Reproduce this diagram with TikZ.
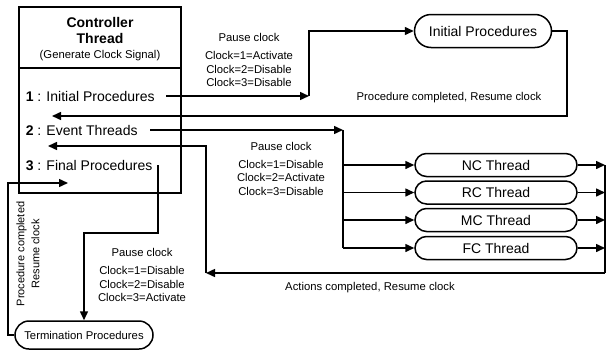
\documentclass[tikz,border=0pt]{standalone}
\usepackage{fontspec}
\setmainfont{Liberation Sans}
\usetikzlibrary{arrows.meta,shapes.misc}
\begin{document}
\begin{tikzpicture}[x=1pt,y=-1pt,
  line width=1.5pt,
  big/.style={font=\fontsize{14}{16}\selectfont},
  bigb/.style={font=\fontsize{14}{16}\selectfont\bfseries},
  sm/.style={font=\fontsize{11.3}{13.5}\selectfont},
  arr/.style={-{Triangle[length=9pt,width=8pt]}},
  pill/.style={draw, rounded rectangle, inner sep=0pt, minimum height=23pt},
  item/.style={big, anchor=base west, inner sep=0pt},
  lbl/.style={sm, align=center, inner sep=0pt}]
\useasboundingbox (0,0) rectangle (609,351);
% controller box
\node[draw, minimum width=162pt, minimum height=186pt, inner sep=0pt] (ctrl) at (100,100) {};
\coordinate (dv) at (0,68);
\draw (ctrl.west |- dv) -- (ctrl.east |- dv);
\node[anchor=base, bigb, inner sep=0pt] (tc) at (100,27) {Controller};
\node[anchor=base, bigb, inner sep=0pt] (tt) at (100,43) {Thread};
\node[anchor=base, sm, inner sep=0pt] (tg) at (100,58) {(Generate Clock Signal)};
\node[item] (i1) at (25,101) {\textbf{1} : Initial Procedures};
\node[item] (i2) at (25,135) {\textbf{2} : Event Threads};
\node[item] (i3) at (25,170) {\textbf{3} : Final Procedures};
% right nodes
\node[pill, big, minimum width=137pt, minimum height=33pt] (ip) at (483,31) {Initial Procedures};
\node[pill, big, minimum width=162pt] (nc) at (496,165) {NC Thread};
\node[pill, big, minimum width=162pt] (rc) at (496,192.5) {RC Thread};
\node[pill, big, minimum width=162pt] (mc) at (496,220) {MC Thread};
\node[pill, big, minimum width=162pt] (fc) at (496,248) {FC Thread};
\node[pill, sm, minimum width=138pt, minimum height=28pt] (term) at (84,335) {Termination Procedures};
% coordinates
\coordinate (c1) at (309,96);
\coordinate (ipr) at (567,116);
\coordinate (r1) at (52,116);
\coordinate (c2) at (343,128);
\coordinate (rr) at (605,165);
\coordinate (rb) at (605,273);
\coordinate (ae) at (206,273);
\coordinate (r2) at (48,146);
\coordinate (fd) at (156,233);
\coordinate (tl) at (8,335);
\coordinate (r3) at (68,183);
% connectors
\draw[arr] ([xshift=11pt]i1.east) -- (i1.east -| c1);
\draw[arr] (i1.east -| c1) |- (ip.west);
\draw[arr] (ip.east) -| (ipr) -- (r1);
\draw[arr] ([xshift=12pt]i2.east) -- (i2.east -| c2);
\draw (i2.east -| c2) -- (c2 |- fc.west);
\foreach \n in {nc,rc,mc,fc} {
  \draw[arr] (c2 |- \n.west) -- (\n.west);
  \draw[arr] (\n.east) -- (rr |- \n.east);
}
\draw (rr |- nc.east) -- (rb);
\draw[arr] (rb) -- (ae);
\draw[arr] (ae) |- (r2);
\draw[arr] ([xshift=5pt]i3.east) -- ([xshift=5pt]i3.east |- fd) -| (term.north);
\draw[arr] (term.west) -- (tl) |- (r3);
% labels
\node[lbl] (p1) at (249,60) {Pause clock\\[4.5pt]Clock=1=Activate\\Clock=2=Disable\\Clock=3=Disable};
\node[lbl] (p2) at (281,168.5) {Pause clock\\[4.5pt]Clock=1=Disable\\Clock=2=Activate\\Clock=3=Disable};
\node[lbl] (p3) at (142,275) {Pause clock\\[4.5pt]Clock=1=Disable\\Clock=2=Disable\\Clock=3=Activate};
\node[sm, inner sep=0pt] (l1) at (449,98) {Procedure completed, Resume clock};
\node[sm, inner sep=0pt] (l2) at (370,288) {Actions completed, Resume clock};
\node[lbl, rotate=90, font=\fontsize{11}{13.5}\selectfont] (l3) at (28,254) {Procedure completed\\[1.5pt]Resume clock};
\end{tikzpicture}
\end{document}
